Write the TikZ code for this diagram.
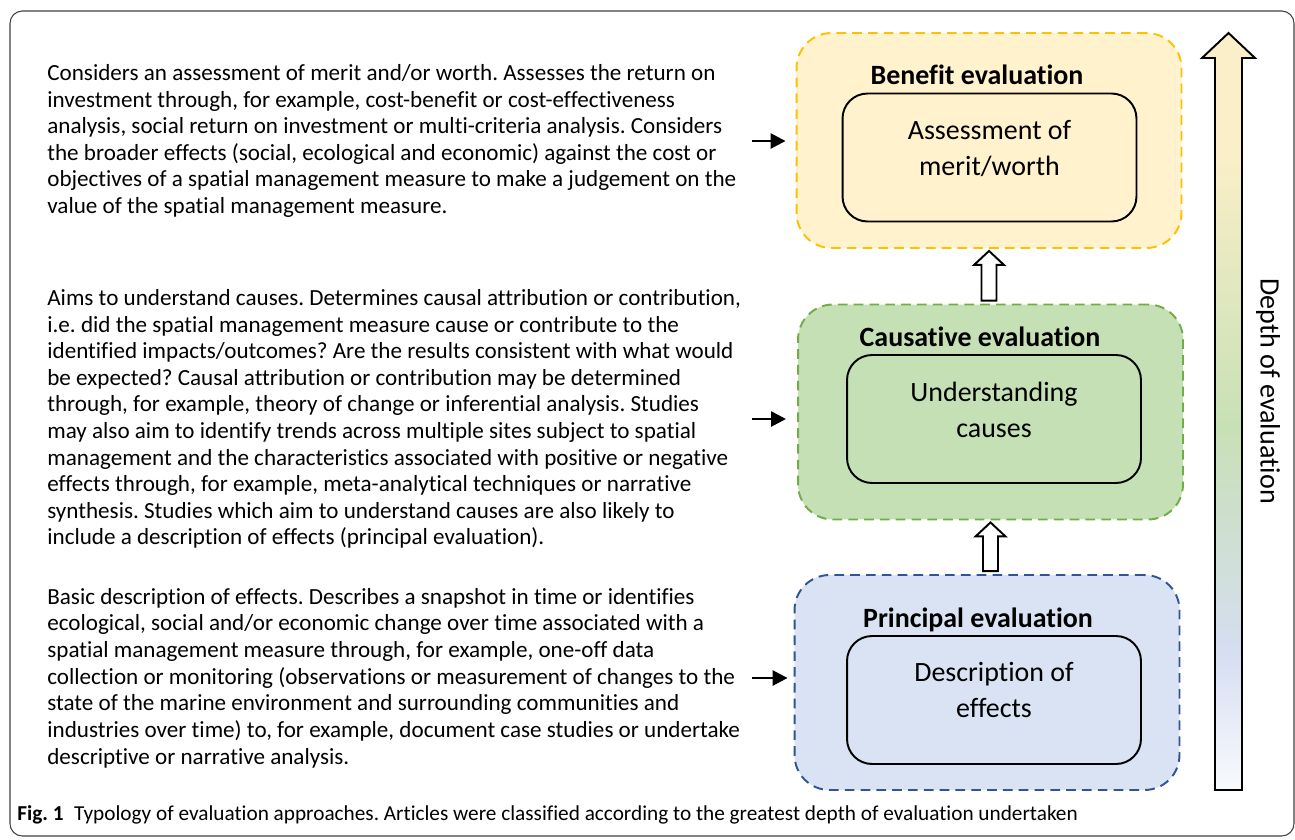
\documentclass[tikz,border=0pt]{standalone}
\usepackage{fontspec}
\setmainfont{Carlito}[Ligatures=NoCommon]
\usetikzlibrary{arrows.meta,calc}
\frenchspacing
\definecolor{beneline}{HTML}{FFC000}
\definecolor{benefill}{HTML}{FFF2CC}
\definecolor{causline}{HTML}{70AD47}
\definecolor{causfill}{HTML}{C5E0B4}
\definecolor{prinline}{HTML}{2F5597}
\definecolor{prinfill}{HTML}{DAE3F3}
\definecolor{depthtop}{HTML}{FAEFC8}
\definecolor{depthgreen}{HTML}{C8E0B6}
\definecolor{depthblue}{HTML}{D6DEF1}
\definecolor{depthbot}{HTML}{F8FAFD}
\pgfdeclareverticalshading{depthshade}{100bp}{color(0bp)=(depthbot); color(25bp)=(depthbot); color(34bp)=(depthblue); color(49bp)=(depthgreen); color(67bp)=(depthtop); color(100bp)=(depthtop)}
\tikzset{>/.tip={Triangle[length=8.5pt,width=8.5pt]},
  evalbox/.style={draw, line width=1.1pt, dash pattern=on 5.5pt off 3.5pt, rounded corners=0.7cm,
    minimum width=7.7cm, minimum height=4.3cm, inner sep=0pt},
  innerbox/.style={draw, line width=1.1pt, rounded corners=0.5cm, minimum width=5.88cm, minimum height=2.56cm, inner sep=0pt},
  boxtitle/.style={font=\fontsize{15.9}{18}\selectfont\bfseries, inner sep=0pt},
  boxtext/.style={font=\fontsize{15.9}{20.8}\selectfont, align=center, inner sep=0pt},
  desc/.style={font=\fontsize{13.15}{15.15}\selectfont, align=left, inner sep=0pt, anchor=west},
  pointer/.style={->, line width=1.5pt},
  hollow/.style={draw, fill=white, line width=1.1pt, line join=miter}}
% hollow block arrow from the lower box (#1) up to the upper box (#2)
\newcommand{\hollowup}[2]{%
  \draw[hollow] ($(#2|-#1)+(-7.5,-3)$) -- ($(#2)+(-7.5,16)$) -- ($(#2)+(-15,16)$)
    -- ($(#2)+(0,2)$) -- ($(#2)+(15,16)$) -- ($(#2)+(7.5,16)$) -- ($(#2|-#1)+(7.5,-3)$) -- cycle;}

\begin{document}
\begin{tikzpicture}[x=0.02cm, y=-0.02cm]
\useasboundingbox (0,0) rectangle (1295,839);
\draw[draw=black!75, line width=0.6pt, rounded corners=7pt] (10,11) rectangle (1294,836);

% the three levels of evaluation
\node[evalbox, draw=beneline, fill=benefill] (bene) at (989,140.5) {};
\node[evalbox, draw=causline, fill=causfill] (caus) at (990.5,412) {};
\node[evalbox, draw=prinline, fill=prinfill] (prin) at (987,682.5) {};

\node[boxtitle] (bene-title) at (977,75) {Benefit evaluation};
\node[boxtitle] (caus-title) at (980,337) {Causative evaluation};
\node[boxtitle] (prin-title) at (978,620) {Principal evaluation};

\node[innerbox] (bene-in) at (989.5,157.5) {};
\node[innerbox] (caus-in) at (994,419) {};
\node[innerbox] (prin-in) at (994,700) {};

\node[boxtext] (bene-txt) at (989.5,148.5) {Assessment of\\merit/worth};
\node[boxtext] (caus-txt) at (994,410) {Understanding\\causes};
\node[boxtext] (prin-txt) at (994,690) {Description of\\effects};

\hollowup{caus.north}{bene.south}
\hollowup{prin.north}{caus.south}

% depth arrow
\draw[line width=1.1pt, shading=depthshade, line join=miter]
  (1228.5,33) -- (1255,58) -- (1242,58) -- (1242,790) -- (1215,790) -- (1215,58) -- (1202,58) -- cycle;
\node[rotate=-90, font=\fontsize{16}{18}\selectfont, inner sep=0pt] (depth) at (1268,391) {Depth of evaluation};

% descriptions
\node[desc] (d-bene) at (47,141) {Considers an assessment of merit and/or worth. Assesses the return on\\
investment through, for example, cost-benefit or cost-effectiveness\\
analysis, social return on investment or multi-criteria analysis. Considers\\
the broader effects (social, ecological and economic) against the cost or\\
objectives of a spatial management measure to make a judgement on the\\
value of the spatial management measure.};
\node[desc] (d-caus) at (47,419) {Aims to understand causes. Determines causal attribution or contribution,\\
i.e. did the spatial management measure cause or contribute to the\\
identified impacts/outcomes? Are the results consistent with what would\\
be expected? Causal attribution or contribution may be determined\\
through, for example, theory of change or inferential analysis. Studies\\
may also aim to identify trends across multiple sites subject to spatial\\
management and the characteristics associated with positive or negative\\
effects through, for example, meta-analytical techniques or narrative\\
synthesis. Studies which aim to understand causes are also likely to\\
include a description of effects (principal evaluation).};
\node[desc] (d-prin) at (47,678) {Basic description of effects. Describes a snapshot in time or identifies\\
ecological, social and/or economic change over time associated with a\\
spatial management measure through, for example, one-off data\\
collection or monitoring (observations or measurement of changes to the\\
state of the marine environment and surrounding communities and\\
industries over time) to, for example, document case studies or undertake\\
descriptive or narrative analysis.};

\coordinate (a-bene) at (752,141);
\coordinate (a-caus) at (752,419);
\coordinate (a-prin) at (752,678);
\draw[pointer, shorten >=5.7pt] (a-bene) -- (a-bene -| bene.west);
\draw[pointer, shorten >=6.3pt] (a-caus) -- (a-caus -| caus.west);
\draw[pointer, shorten >=3.4pt] (a-prin) -- (a-prin -| prin.west);

\node[anchor=west, inner sep=0pt, font=\fontsize{12.1}{14}\selectfont] (caption) at (17,815)
  {\textbf{Fig. 1}\hspace{6pt}Typology of evaluation approaches. Articles were classified according to the greatest depth of evaluation undertaken};
\end{tikzpicture}
\end{document}
